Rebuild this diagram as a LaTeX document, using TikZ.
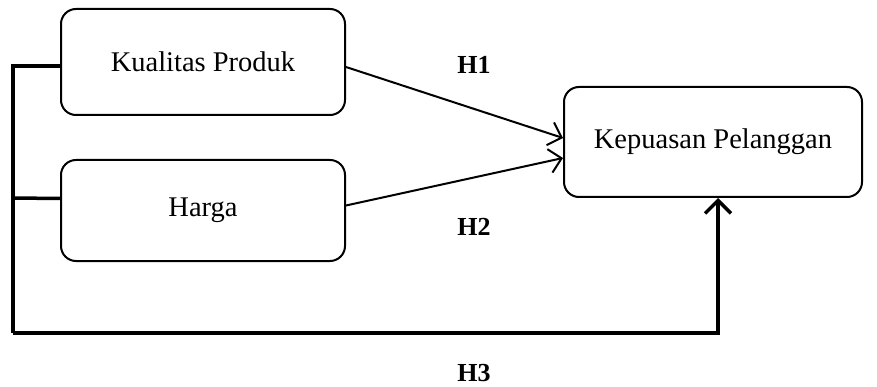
\documentclass[tikz,border=0pt]{standalone}
\usepackage{fontspec}
\setmainfont{Liberation Serif}
\usetikzlibrary{arrows.meta}
\begin{document}
\begin{tikzpicture}[x=1pt,y=-1pt,
  box/.style={draw, line width=2pt, rounded corners=15pt, inner sep=0pt, font=\fontsize{28.5}{34}\selectfont},
  rel/.style={line width=2pt, -{Straight Barb[length=12pt,width=24pt,line width=2pt]}},
  brk/.style={line width=3.5pt},
  hlab/.style={font=\fontsize{26}{30}\selectfont\bfseries, inner sep=2pt}]
\useasboundingbox (0,0) rectangle (877,387);
\node[box, minimum width=284pt, minimum height=106pt] (kp) at (203,62) {Kualitas Produk};
\node[box, minimum width=284pt, minimum height=101pt] (harga) at (203,210.5) {Harga};
\node[box, minimum width=298pt, minimum height=110pt] (kpel) at (713,142) {Kepuasan Pelanggan};
\coordinate (lt) at (13,66);
\coordinate (lm) at (13,198);
\coordinate (lb) at (13,333);
\draw[rel] ([yshift=-5pt]kp.east) -- ([yshift=4pt]kpel.west);
\draw[rel] ([yshift=5pt]harga.east) -- ([yshift=-16pt]kpel.west);
\draw[brk] ([yshift=-4pt]kp.west) -- (lt) -- (lb);
\draw[brk] ([yshift=12pt]harga.west) -- (lm);
\draw[brk, -{Straight Barb[length=13pt,width=26pt,line width=3.5pt]}] (lb) -| ([xshift=5pt]kpel.south);
\node[hlab] (h1) at (474,65) {H1};
\node[hlab] (h2) at (474,227) {H2};
\node[hlab] (h3) at (474,373) {H3};
\end{tikzpicture}
\end{document}
